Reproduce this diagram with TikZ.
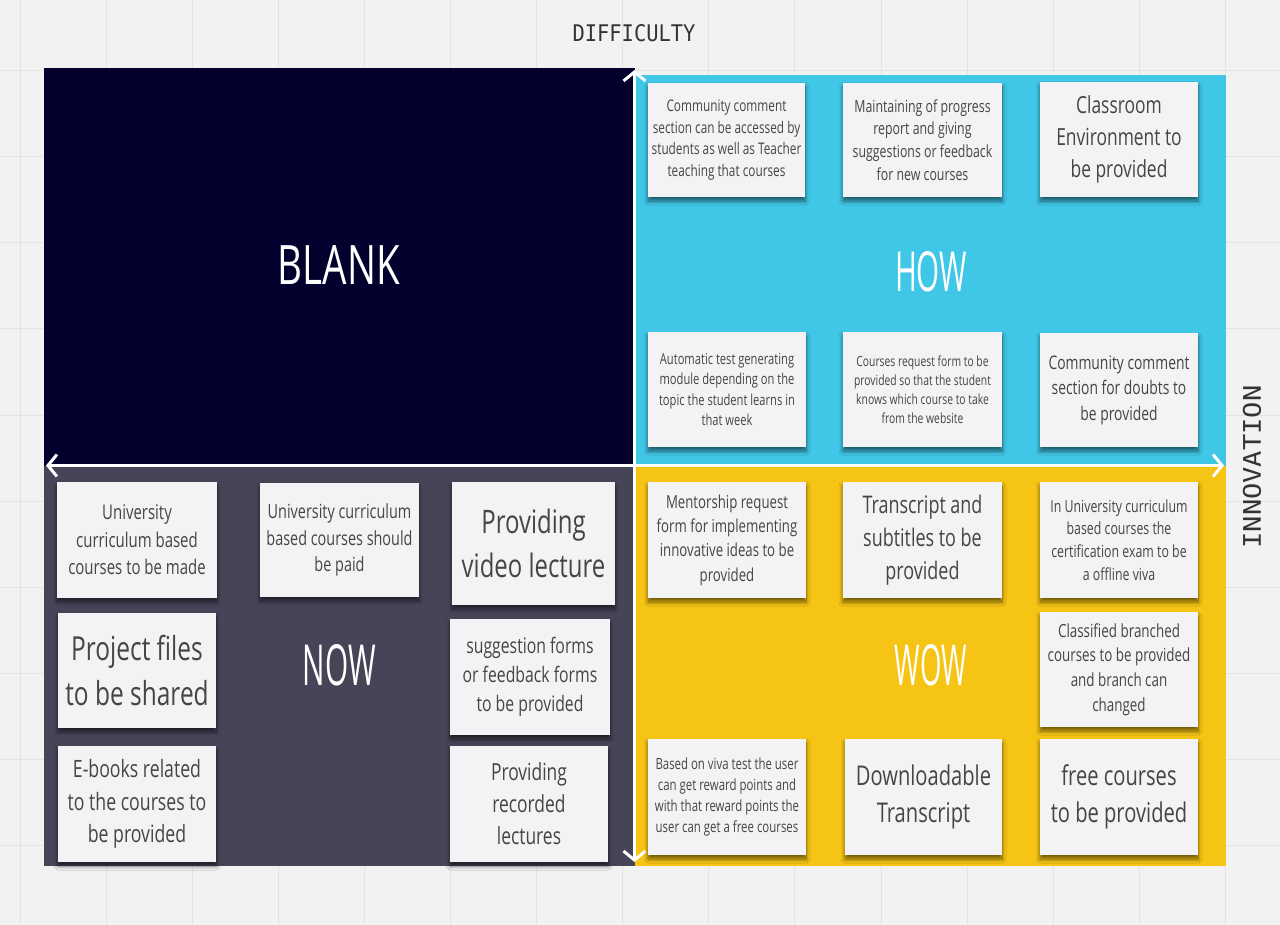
\documentclass[tikz,border=0pt]{standalone}
\usepackage{fontspec}
\usepackage{graphicx}
\usetikzlibrary{arrows.meta,shadows.blur}
\newfontfamily\notefont[FakeStretch=0.74]{Open Sans}
\newfontfamily\titlefont{Open Sans}
\newfontfamily\axisfont{DejaVu Sans Mono}
\definecolor{canvas}{HTML}{F2F2F2}
\definecolor{gridline}{HTML}{E3E3E3}
\definecolor{blankbg}{HTML}{03002E}
\definecolor{howbg}{HTML}{40C6E6}
\definecolor{nowbg}{HTML}{464457}
\definecolor{wowbg}{HTML}{F5C414}
\definecolor{notebg}{HTML}{F3F3F5}
\definecolor{notetext}{HTML}{454545}
\definecolor{axistext}{HTML}{333333}
% note font: size derived from the line spacing
\newcommand{\nf}[1]{\notefont\fontsize{\dimexpr #1pt*100/136\relax}{#1pt}\selectfont}
\newcommand{\ttl}[3]{\resizebox{#1pt}{#2pt}{#3}}
\tikzset{
  note/.style={fill=notebg, text=notetext, inner sep=0pt, align=center,
    blur shadow={shadow xshift=0pt, shadow yshift=-4pt, shadow blur steps=8,
      shadow blur radius=4pt, shadow opacity=55}},
  quadtitle/.style={text=white, font=\titlefont, inner sep=0pt},
  axisline/.style={draw=white, line width=3pt,
    {Straight Barb[length=9pt,width=22pt]}-{Straight Barb[length=9pt,width=22pt]}},
  axislabel/.style={text=axistext, font=\axisfont, inner sep=0pt}
}
\begin{document}
\begin{tikzpicture}[x=1pt,y=-1pt]
\useasboundingbox (0,0) rectangle (1280,925);
% canvas and its grid
\fill[canvas] (0,0) rectangle (1280,925);
\foreach \gx in {0,...,14} \draw[gridline, line width=1pt] ({20+86.1*\gx},0) -- ({20+86.1*\gx},925);
\foreach \gy in {0,...,10} \draw[gridline, line width=1pt] (0,{-15+86*\gy}) -- (1280,{-15+86*\gy});

% quadrants
\fill[blankbg] (44,68) rectangle (634.5,465.5);
\fill[howbg] (634.5,75) rectangle (1226,465.5);
\fill[nowbg] (44,465.5) rectangle (634.5,866);
\fill[wowbg] (634.5,465.5) rectangle (1226,866);

% axes
\coordinate (top) at (634.5,70);
\coordinate (bottom) at (634.5,862);
\coordinate (left) at (46,465.5);
\coordinate (right) at (1224,465.5);
\draw[axisline] (bottom) -- (top);
\draw[axisline] (left) -- (right);

\node[axislabel] (difficulty) at (634,33) {\ttl{123}{17}{DIFFICULTY}};
\node[axislabel, rotate=90] (innovation) at (1252,467) {\ttl{163}{18}{INNOVATION}};

% quadrant titles
\node[quadtitle] (blank) at (339,265.5) {\ttl{122}{39}{BLANK}};
\node[quadtitle] (how) at (931,272) {\ttl{72}{40}{HOW}};
\node[quadtitle] (now) at (339.5,665.5) {\ttl{73}{41}{NOW}};
\node[quadtitle] (wow) at (931,665.5) {\ttl{72}{41}{WOW}};

% HOW notes
\node[note, minimum width=157, minimum height=114, font=\nf{21.7}] (h1) at (726.5,140)
  {Community comment\\section can be accessed by\\students as well as Teacher\\teaching that courses};
\node[note, minimum width=159, minimum height=114, font=\nf{22.7}] (h2) at (922.5,140)
  {Maintaining of progress\\report and giving\\suggestions or feedback\\for new courses};
\node[note, minimum width=158, minimum height=115, font=\nf{32}] (h3) at (1119,139.5)
  {Classroom\\Environment to\\be provided};
\node[note, minimum width=158, minimum height=115, font=\nf{20.5}] (h4) at (727,389.5)
  {Automatic test generating\\module depending on the\\topic the student learns in\\that week};
\node[note, minimum width=159, minimum height=115, font=\nf{19}] (h5) at (922.5,389.5)
  {Courses request form to be\\provided so that the student\\knows which course to take\\from the website};
\node[note, minimum width=158, minimum height=114, font=\nf{25.5}] (h6) at (1119,390)
  {Community comment\\section for doubts to\\be provided};

% NOW notes
\node[note, minimum width=160, minimum height=116, font=\nf{27.5}] (n1) at (137,540)
  {University\\curriculum based\\courses to be made};
\node[note, minimum width=159, minimum height=114, font=\nf{26.5}] (n2) at (339.5,540)
  {University curriculum\\based courses should\\be paid};
\node[note, minimum width=163, minimum height=123, font=\nf{44}] (n3) at (533.5,543.5)
  {Providing\\video lecture};
\node[note, minimum width=158, minimum height=115, font=\nf{45}] (n4) at (137,670.5)
  {Project files\\to be shared};
\node[note, minimum width=158, minimum height=116, font=\nf{32.5}] (n5) at (137,804)
  {E-books related\\to the courses to\\be provided};
\node[note, minimum width=160, minimum height=116, font=\nf{29}] (n6) at (530,677)
  {suggestion forms\\or feedback forms\\to be provided};
\node[note, minimum width=158, minimum height=116, font=\nf{32}] (n7) at (529,804)
  {Providing\\recorded\\lectures};

% WOW notes
\node[note, minimum width=158, minimum height=116, font=\nf{24.3}] (w1) at (727,540)
  {Mentorship request\\form for implementing\\innovative ideas to be\\provided};
\node[note, minimum width=159, minimum height=116, font=\nf{33}] (w2) at (922.5,540)
  {Transcript and\\subtitles to be\\provided};
\node[note, minimum width=158, minimum height=116, font=\nf{22.7}] (w3) at (1119,540)
  {In University curriculum\\based courses the\\certification exam to be\\a offline viva};
\node[note, minimum width=158, minimum height=115, font=\nf{24.6}] (w4) at (1119,669.5)
  {Classified branched\\courses to be provided\\and branch can\\changed};
\node[note, minimum width=158, minimum height=116, font=\nf{21}] (w5) at (727,797)
  {Based on viva test the user\\can get reward points and\\with that reward points the\\user can get a free courses};
\node[note, minimum width=157, minimum height=116, font=\nf{37}] (w6) at (923.5,797)
  {Downloadable\\Transcript};
\node[note, minimum width=158, minimum height=116, font=\nf{37}] (w7) at (1119,797)
  {free courses\\to be provided};
\end{tikzpicture}
\end{document}
